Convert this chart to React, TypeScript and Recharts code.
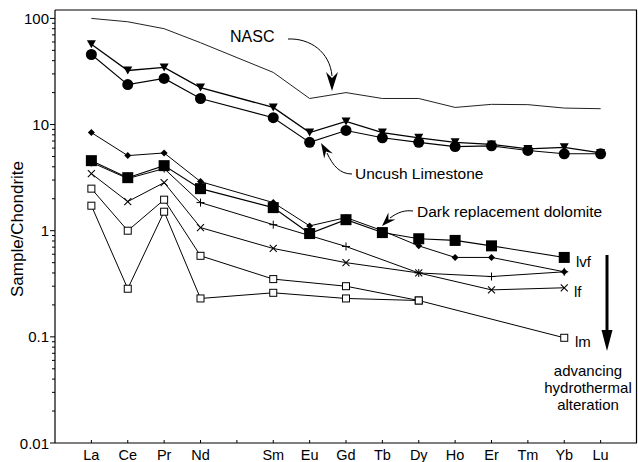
import React from 'react';
import { LineChart, Line, XAxis, YAxis } from 'recharts';

// REE names and atomic numbers (Pm has no data, only a tick)
const elements = ['La', 'Ce', 'Pr', 'Nd', '', 'Sm', 'Eu', 'Gd', 'Tb', 'Dy', 'Ho', 'Er', 'Tm', 'Yb', 'Lu'];
const atomicNumbers = [57, 58, 59, 60, 61, 62, 63, 64, 65, 66, 67, 68, 69, 70, 71];

// chondrite-normalised values
const nasc = [100, 93, 80, 59, null, 31, 17.6, 20, 17.6, 17.6, 14.5, 15.5, 15.4, 14.3, 14.1];
const limestoneA = [57, 32.3, 34.5, 22.3, null, 14.5, 8.4, 10.7, 8.4, 7.5, 6.8, 6.5, 5.9, 6.1, 5.4];
const limestoneB = [45.7, 23.8, 27.2, 17.6, null, 11.6, 6.8, 8.8, 7.5, 6.8, 6.2, 6.3, 5.7, 5.3, 5.3];
const diamondSeries = [8.4, 5.1, 5.4, 2.9, null, 1.84, 1.11, 1.33, 1.0, 0.72, 0.56, 0.56, null, 0.41, null];
const lvf = [4.57, 3.16, 4.1, 2.49, null, 1.65, 0.94, 1.27, 0.96, 0.84, 0.81, 0.72, null, 0.56, null];
const plusSeries = [4.4, 3.1, 3.85, 1.84, null, 1.14, null, 0.71, null, 0.4, null, 0.37, null, 0.41, null];
const lf = [3.45, 1.88, 2.84, 1.07, null, 0.68, null, 0.5, null, 0.4, null, 0.277, null, 0.29, null];
const openA = [2.49, 1.0, 1.96, 0.58, null, 0.35, null, 0.3, null, 0.22, null, null, null, null, null];
const lm = [1.72, 0.284, 1.51, 0.23, null, 0.26, null, 0.23, null, 0.22, null, null, null, 0.098, null];

const decades = [0.01, 0.1, 1, 10];
const minorSteps = [1, 2, 3, 4, 5, 6, 7, 8, 9];
const yTicks = [...decades.flatMap((d) => minorSteps.map((m) => +(d * m).toPrecision(2))), 100];
const yLabels: Record<string, string> = { '0.01': '0.01', '0.1': '0.1', '1': '1', '10': '10', '100': '100' };

const data = atomicNumbers.map((z, i) => ({
  z,
  el: elements[i],
  nasc: nasc[i],
  limestoneA: limestoneA[i],
  limestoneB: limestoneB[i],
  diamond: diamondSeries[i],
  lvf: lvf[i],
  plus: plusSeries[i],
  lf: lf[i],
  openA: openA[i],
  lm: lm[i],
}));

const FONT = '"Liberation Sans", Arial, Helvetica, sans-serif';

const makeDot = (kind: string) => (props: any) => {
  const { cx, cy, value, index } = props;
  const key = `${kind}-${index}`;
  if (value == null || cy == null || isNaN(cy)) return <g key={key} />;
  switch (kind) {
    case 'circle':
      return <circle key={key} cx={cx} cy={cy} r={5.5} fill="#000" />;
    case 'tri':
      return (
        <polygon key={key} points={`${cx - 4.5},${cy - 4} ${cx + 4.5},${cy - 4} ${cx},${cy + 4}`} fill="#000" />
      );
    case 'bigsq':
      return <rect key={key} x={cx - 5.5} y={cy - 5.5} width={11} height={11} fill="#000" />;
    case 'diamond':
      return <polygon key={key} points={`${cx},${cy - 3.5} ${cx + 3.5},${cy} ${cx},${cy + 3.5} ${cx - 3.5},${cy}`} fill="#000" />;
    case 'plus':
      return (
        <g key={key} stroke="#000" strokeWidth={1}>
          <line x1={cx - 4} y1={cy} x2={cx + 4} y2={cy} />
          <line x1={cx} y1={cy - 4} x2={cx} y2={cy + 4} />
        </g>
      );
    case 'cross':
      return (
        <g key={key} stroke="#000" strokeWidth={1.1}>
          <line x1={cx - 3.5} y1={cy - 3.5} x2={cx + 3.5} y2={cy + 3.5} />
          <line x1={cx - 3.5} y1={cy + 3.5} x2={cx + 3.5} y2={cy - 3.5} />
        </g>
      );
    case 'open':
      return <rect key={key} x={cx - 3.5} y={cy - 3.5} width={7} height={7} fill="#fff" stroke="#000" strokeWidth={1} />;
    default:
      return <g key={key} />;
  }
};

const XTick = (props: any) => {
  const { x, y, payload } = props;
  const idx = atomicNumbers.indexOf(payload.value);
  return (
    <g>
      <line x1={x} y1={y - 3} x2={x} y2={y} stroke="#000" />
      <text x={x} y={y + 17} textAnchor="middle" fontSize={14.5} fontFamily={FONT} fill="#000">
        {idx >= 0 ? elements[idx] : ''}
      </text>
    </g>
  );
};

const YTick = (props: any) => {
  const { x, y, payload } = props;
  const label = yLabels[String(payload.value)];
  return (
    <g>
      <line x1={x - (label ? 5 : 3)} y1={y} x2={x} y2={y} stroke="#000" />
      {label && (
        <text x={x - 6} y={y + 5.5} textAnchor="end" fontSize={15} fontFamily={FONT} fill="#000">
          {label}
        </text>
      )}
    </g>
  );
};

const series = [
  { key: 'limestoneA', dot: 'tri', w: 1.3 },
  { key: 'limestoneB', dot: 'circle', w: 1.1 },
  { key: 'diamond', dot: 'diamond', w: 1 },
  { key: 'plus', dot: 'plus', w: 1 },
  { key: 'lf', dot: 'cross', w: 1 },
  { key: 'openA', dot: 'open', w: 1 },
  { key: 'lm', dot: 'open', w: 1 },
  { key: 'lvf', dot: 'bigsq', w: 1.1 },
];

export default function App() {
  return (
    <div style={{ position: 'absolute', left: 0, top: 0, width: 638, height: 462, background: '#fff' }}>
      <LineChart width={638} height={462} data={data} margin={{ top: 10, right: 1, bottom: 0, left: 0 }}>
        <XAxis
          dataKey="z"
          type="number"
          domain={[56, 72]}
          ticks={atomicNumbers}
          allowDataOverflow
          height={19}
          tickSize={0}
          tickMargin={0}
          tickLine={false}
          tick={<XTick />}
          axisLine={{ stroke: '#000', strokeWidth: 1.2 }}
          interval={0}
        />
        <YAxis
          scale="log"
          domain={[0.01, 120]}
          ticks={yTicks}
          allowDataOverflow
          width={55}
          tickSize={0}
          tickMargin={0}
          tickLine={false}
          tick={<YTick />}
          axisLine={{ stroke: '#000', strokeWidth: 1.2 }}
          interval={0}
        />
        <Line
          dataKey="nasc"
          type="linear"
          stroke="#222"
          strokeWidth={1}
          dot={false}
          connectNulls
          isAnimationActive={false}
        />
        {series.map((s) => (
          <Line
            key={s.key}
            dataKey={s.key}
            type="linear"
            stroke="#000"
            strokeWidth={s.w}
            dot={makeDot(s.dot)}
            activeDot={false}
            connectNulls
            isAnimationActive={false}
          />
        ))}
      </LineChart>
      <svg
        width={638}
        height={462}
        style={{ position: 'absolute', left: 0, top: 0, pointerEvents: 'none' }}
        fontFamily={FONT}
      >
        {/* frame */}
        <line x1={55} y1={10} x2={637} y2={10} stroke="#000" strokeWidth={1.2} />
        <line x1={636.5} y1={10} x2={636.5} y2={443} stroke="#000" strokeWidth={1.2} />
        {/* y axis title */}
        <text
          transform="translate(23,229) rotate(-90)"
          textAnchor="middle"
          fontSize={17}
          fill="#000"
        >
          Sample/Chondrite
        </text>
        {/* NASC annotation */}
        <text x={230} y={42} fontSize={16} fill="#000">NASC</text>
        <path d="M288,39 C310,38 330,52 332,76" fill="none" stroke="#000" strokeWidth={1} />
        <polygon points="326,72 332,91 338,72 332,78" fill="#000" />
        {/* Uncush Limestone annotation */}
        <text x={355} y={179} fontSize={15.5} fill="#000">Uncush Limestone</text>
        <path d="M352,174 C340,174 333,166 327,153" fill="none" stroke="#000" strokeWidth={1} />
        <polygon points="321,143 332.8,153.4 326,151.6 324.2,158.4" fill="#000" />
        {/* dolomite annotation */}
        <text x={417} y={217} fontSize={15.5} fill="#000">Dark replacement dolomite</text>
        <path d="M413,211 C405,210 398,212 390,218" fill="none" stroke="#000" strokeWidth={1} />
        <polygon points="382,226 388.4,212.6 388.4,219.6 395.4,219.6" fill="#000" />
        {/* series labels */}
        <text x={576} y={267} fontSize={15} fill="#000">lvf</text>
        <text x={574} y={297} fontSize={15} fill="#000">lf</text>
        <text x={575} y={347} fontSize={15} fill="#000">lm</text>
        {/* alteration arrow */}
        <line x1={607} y1={255} x2={607} y2={334} stroke="#000" strokeWidth={3} />
        <polygon points="601.5,330 612.5,330 607,351" fill="#000" />
        <text x={588} y={376} fontSize={15} textAnchor="middle" fill="#000">advancing</text>
        <text x={588} y={393} fontSize={15} textAnchor="middle" fill="#000">hydrothermal</text>
        <text x={588} y={410} fontSize={15} textAnchor="middle" fill="#000">alteration</text>
      </svg>
    </div>
  );
}
